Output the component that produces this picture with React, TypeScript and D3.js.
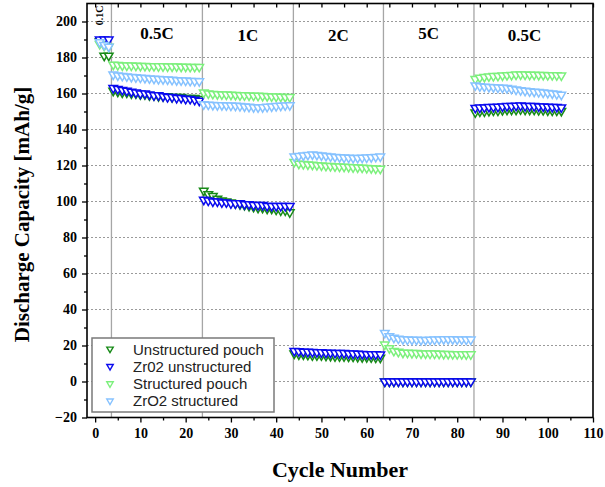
import React, { useEffect, useRef } from 'react';
import * as d3 from 'd3';

// Rate steps: labels and the cycle where each step ends
const rateLabels = ['0.1C', '0.5C', '1C', '2C', '5C', '0.5C'];
const rateBreaks = [3.6, 23.7, 43.8, 63.7, 83.7];

const seriesNames = ['Unstructured pouch', 'Zr02 unstructured', 'Structured pouch', 'ZrO2 structured'];
const seriesColors = ['#178a17', '#0a0aee', '#7cf07c', '#86c2ff'];

// Discharge capacity per cycle (cycles 1..103)
const unstructuredPouch = [
    189, 181, 181,
    161.5, 161, 160.5, 160.5, 160, 160, 159.5, 159.5, 159, 159, 158.5, 158.5, 158.5, 158, 158, 158, 157.5, 157.5, 157.5, 157,
    106, 104, 103, 101.5, 100.5, 100, 99.5, 99, 98.5, 98, 97.5, 97, 96.5, 96.5, 96, 96, 95.5, 95, 95, 94,
    15.5, 15, 15, 14.8, 14.5, 14.5, 14.5, 14.3, 14.2, 14, 14, 14, 13.8, 13.8, 13.6, 13.5, 13.5, 13.4, 13.3, 13.2,
    0, 0, 0, 0, 0, 0, 0, 0, 0, 0, 0, 0, 0, 0, 0, 0, 0, 0, 0, 0,
    149.5, 150, 150, 150.3, 150.5, 150.5, 150.8, 151, 151, 151, 151.2, 151, 151, 151, 150.8, 150.8, 150.6, 150.5, 150.5, 150.3,
];
const zrUnstructured = [
    190, 190, 190,
    163, 162.5, 162, 161.5, 161, 160.5, 160, 160, 159.5, 159, 159, 158.5, 158, 158, 157.5, 157.5, 157, 157, 156.5, 156,
    101, 100.5, 100, 100, 99.5, 99.5, 99, 99, 99, 98.5, 98.5, 98, 98, 98, 97.5, 97.5, 97.5, 97.5, 97.5, 97.5,
    17, 16.8, 16.6, 16.5, 16.4, 16.3, 16.2, 16, 16, 15.9, 15.8, 15.8, 15.6, 15.5, 15.4, 15.3, 15.2, 15.2, 15.1, 15,
    0, 0, 0, 0, 0, 0, 0, 0, 0, 0, 0, 0, 0, 0, 0, 0, 0, 0, 0, 0,
    152, 152.2, 152.3, 152.5, 152.5, 152.6, 152.8, 153, 153, 153.2, 153.3, 153, 153, 153, 152.8, 152.8, 152.6, 152.5, 152.5, 152.3,
];
const structuredPouch = [
    187.5, 186.5, 186,
    176, 175.8, 175.6, 175.5, 175.5, 175.4, 175.3, 175.3, 175.2, 175.2, 175.1, 175.1, 175, 175, 175, 174.9, 174.9, 174.8, 174.8, 174.8,
    160.5, 160, 159.8, 159.6, 159.5, 159.4, 159.3, 159.2, 159, 159, 158.9, 158.8, 158.7, 158.6, 158.5, 158.4, 158.3, 158.2, 158.1, 158,
    122, 121, 120.8, 120.6, 120.4, 120.2, 120, 119.8, 119.7, 119.5, 119.4, 119.3, 119.2, 119, 118.9, 118.8, 118.6, 118.5, 118.3, 118.2,
    20.5, 18.5, 17, 16.5, 16, 16, 15.8, 15.8, 15.6, 15.6, 15.5, 15.5, 15.4, 15.3, 15.3, 15.2, 15.2, 15.2, 15.1, 15.1,
    168, 168.8, 169.2, 169.5, 169.7, 169.8, 170, 170.2, 170.3, 170.5, 170.6, 170.5, 170.4, 170.4, 170.3, 170.3, 170.2, 170.2, 170.1, 170,
];
const zrStructured = [
    188.5, 187, 186,
    170.5, 170, 169.8, 169.5, 169.2, 169, 168.8, 168.6, 168.4, 168.2, 168, 167.9, 167.8, 167.6, 167.4, 167.3, 167.2, 167, 166.9, 166.8,
    154, 153.8, 153.6, 153.5, 153.5, 153.4, 153.3, 153.2, 153, 152.8, 152.6, 152.4, 152.3, 152.4, 152.6, 152.8, 153, 153.2, 153.4, 153.5,
    125, 125.3, 125.6, 125.9, 126.1, 125.9, 125.6, 125.3, 125, 124.8, 124.6, 124.4, 124.3, 124.2, 124.2, 124.3, 124.4, 124.6, 124.8, 125,
    27, 25.2, 24.3, 23.8, 23.5, 23.3, 23.2, 23.2, 23.1, 23.1, 23.2, 23.3, 23.4, 23.5, 23.5, 23.5, 23.4, 23.4, 23.3, 23.3,
    164.5, 164, 163.8, 163.6, 163.5, 163.3, 163.2, 163, 162.6, 162.2, 161.8, 161.5, 161.2, 161, 160.8, 160.5, 160.3, 160, 159.7, 159.3,
];

const xTicks = [0, 10, 20, 30, 40, 50, 60, 70, 80, 90, 100, 110];
const xMinorTicks = [5, 15, 25, 35, 45, 55, 65, 75, 85, 95, 105];
const yTicks = [-20, 0, 20, 40, 60, 80, 100, 120, 140, 160, 180, 200];
const yMinorTicks = [-10, 10, 30, 50, 70, 90, 110, 130, 150, 170, 190];

const SERIF = '"Liberation Serif", "Times New Roman", serif';
const SANS = '"Liberation Sans", Arial, sans-serif';

function App() {
    const svgRef = useRef(null);

    useEffect(() => {
        if (!svgRef.current) return;
        const svg = d3.select(svgRef.current);
        svg.selectAll('*').remove();

        const left = 87, right = 593, top = 3.5, bottom = 417.5;

        const x = d3.scaleLinear().domain([-1.8, 110]).range([left, right]);
        const y = d3.scaleLinear().domain([-20, 210]).range([bottom, top]);

        // Dotted horizontal grid
        svg.append('g')
            .selectAll('line')
            .data(yTicks.filter(d => d > -20))
            .enter()
            .append('line')
            .attr('x1', left).attr('x2', right)
            .attr('y1', d => y(d)).attr('y2', d => y(d))
            .attr('stroke', '#9a9a9a')
            .attr('stroke-width', 1)
            .attr('stroke-dasharray', '2,2');

        // Rate step dividers
        svg.append('g')
            .selectAll('line')
            .data(rateBreaks)
            .enter()
            .append('line')
            .attr('x1', d => x(d)).attr('x2', d => x(d))
            .attr('y1', top).attr('y2', bottom)
            .attr('stroke', '#a6a6a6')
            .attr('stroke-width', 1.3);

        // Rate labels, centred in each step
        const edges = [-1.8, ...rateBreaks, 106];
        rateLabels.forEach((label, i) => {
            const cx = x((edges[i] + edges[i + 1]) / 2);
            if (i === 0) {
                svg.append('text')
                    .attr('transform', `translate(${x(1.0)},15.5) rotate(-90)`)
                    .attr('text-anchor', 'middle')
                    .attr('dominant-baseline', 'central')
                    .attr('font-family', SERIF)
                    .attr('font-weight', 'bold')
                    .attr('font-size', 10)
                    .text(label);
            } else {
                svg.append('text')
                    .attr('x', cx)
                    .attr('y', i === 1 || i === 4 ? 39 : 41)
                    .attr('text-anchor', 'middle')
                    .attr('font-family', SERIF)
                    .attr('font-weight', 'bold')
                    .attr('font-size', 17)
                    .text(label);
            }
        });

        // Markers: hollow downward triangles
        const tri = d3.symbol().type(d3.symbolTriangle).size(32);
        const allSeries = [unstructuredPouch, zrUnstructured, structuredPouch, zrStructured];
        allSeries.forEach((values, si) => {
            svg.append('g')
                .selectAll('path')
                .data(values)
                .enter()
                .append('path')
                .attr('d', tri())
                .attr('transform', (d, i) => `translate(${x(i + 1)},${y(d)}) rotate(180)`)
                .attr('fill', 'white')
                .attr('stroke', seriesColors[si])
                .attr('stroke-width', 1.5);
        });

        // Axes
        const styleAxis = (g) => {
            g.select('.domain').remove();
            g.selectAll('line').attr('stroke', '#000').attr('stroke-width', 1.3);
            g.attr('font-family', SERIF).attr('font-size', 14).attr('font-weight', 'bold');
        };

        svg.append('g')
            .attr('transform', `translate(${left},0)`)
            .call(d3.axisLeft(y).tickValues(yTicks).tickSize(5).tickPadding(5).tickFormat(d3.format('d')))
            .call(styleAxis);
        svg.append('g')
            .attr('transform', `translate(${left},0)`)
            .call(d3.axisLeft(y).tickValues(yMinorTicks).tickSize(3).tickFormat(() => ''))
            .call(styleAxis);

        svg.append('g')
            .attr('transform', `translate(0,${bottom})`)
            .call(d3.axisBottom(x).tickValues(xTicks).tickSize(5).tickPadding(6).tickFormat(d3.format('d')))
            .call(styleAxis);
        svg.append('g')
            .attr('transform', `translate(0,${bottom})`)
            .call(d3.axisBottom(x).tickValues(xMinorTicks).tickSize(3).tickFormat(() => ''))
            .call(styleAxis);

        // Top ticks point inward
        svg.append('g')
            .attr('transform', `translate(0,${top})`)
            .call(d3.axisTop(x).tickValues([...xTicks, ...xMinorTicks]).tickSize(-4).tickFormat(() => ''))
            .call(styleAxis);

        // Frame
        svg.append('rect')
            .attr('x', left).attr('y', top)
            .attr('width', right - left).attr('height', bottom - top)
            .attr('fill', 'none')
            .attr('stroke', '#000')
            .attr('stroke-width', 1.6);

        // Legend
        const legend = svg.append('g');
        legend.append('rect')
            .attr('x', 92).attr('y', 338)
            .attr('width', 182).attr('height', 74)
            .attr('fill', 'white')
            .attr('stroke', '#7a7a7a')
            .attr('stroke-width', 1.5);
        const legendTri = d3.symbol().type(d3.symbolTriangle).size(18);
        seriesNames.forEach((name, i) => {
            const ly = 349 + i * 17.3;
            legend.append('path')
                .attr('d', legendTri())
                .attr('transform', `translate(110,${ly}) rotate(180)`)
                .attr('fill', 'white')
                .attr('stroke', seriesColors[i])
                .attr('stroke-width', 1.4);
            legend.append('text')
                .attr('x', 133)
                .attr('y', ly)
                .attr('dominant-baseline', 'central')
                .attr('font-family', SANS)
                .attr('font-size', 15)
                .attr('fill', '#222')
                .text(name);
        });

        // Axis titles
        svg.append('text')
            .attr('transform', `translate(22,${(top + bottom) / 2 + 4}) rotate(-90)`)
            .attr('text-anchor', 'middle')
            .attr('dominant-baseline', 'central')
            .attr('font-family', SERIF)
            .attr('font-weight', 'bold')
            .attr('font-size', 21)
            .text('Discharge Capacity [mAh/g]');

        svg.append('text')
            .attr('x', 340)
            .attr('y', 477)
            .attr('text-anchor', 'middle')
            .attr('font-family', SERIF)
            .attr('font-weight', 'bold')
            .attr('font-size', 22)
            .text('Cycle Number');
    }, []);

    return (
        <svg
            ref={svgRef}
            width={605}
            height={487}
            style={{ position: 'absolute', left: 0, top: 0, background: 'white' }}
        />
    );
}

export default App;
